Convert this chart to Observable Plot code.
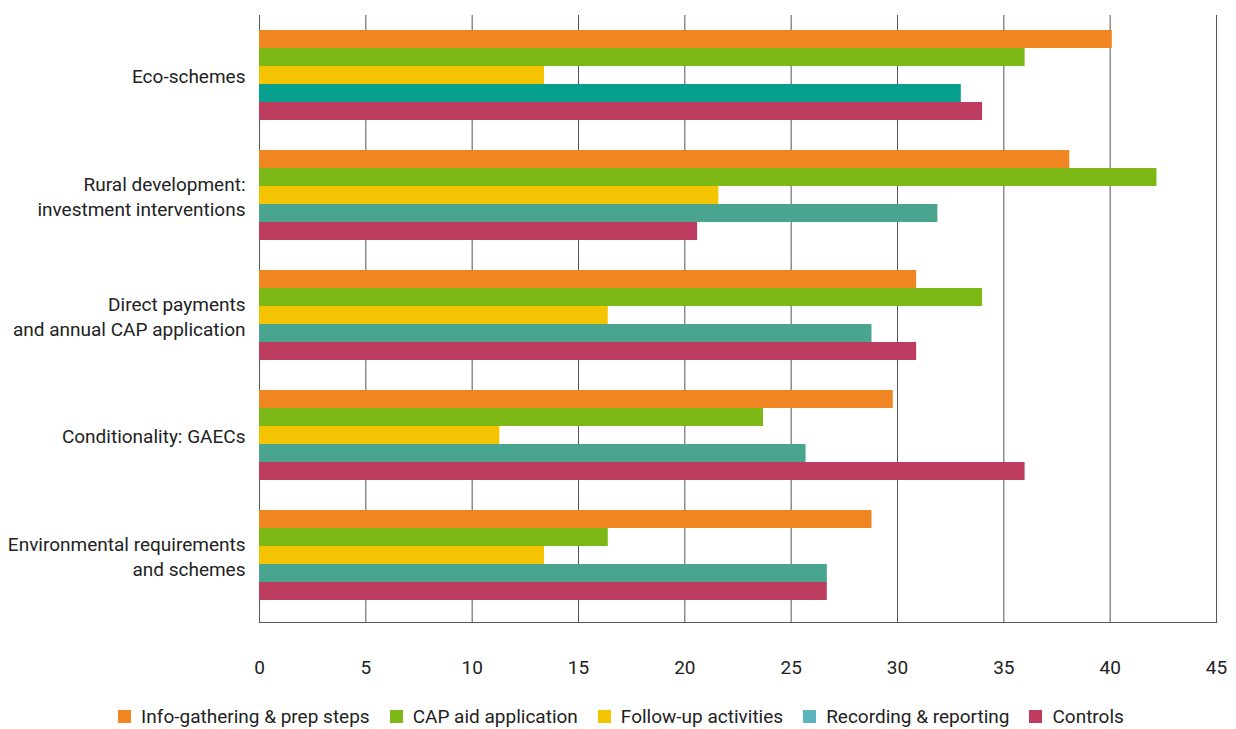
<!DOCTYPE html>
<html>
<head>
<meta charset="utf-8">
<script src="https://cdn.jsdelivr.net/npm/d3@7"></script>
<script src="https://cdn.jsdelivr.net/npm/@observablehq/plot@0.6"></script>
<style>
  html, body { margin: 0; padding: 0; background: #fff; }
  body { width: 1236px; height: 729px; overflow: hidden; font-family: Roboto, "Noto Sans", sans-serif; }
  #legend { display: flex; justify-content: center; align-items: center; gap: 20px; margin-top: 14px; height: 24px; font-size: 19px; color: #222; padding-left: 6px; }
  #legend .item { display: flex; align-items: center; gap: 10px; }
  #legend .sw { width: 13px; height: 13px; display: inline-block; }
</style>
</head>
<body>
<div id="chart"></div>
<div id="legend"></div>
<script>
const categories = [
  "Eco-schemes",
  "Rural development:\ninvestment interventions",
  "Direct payments\nand annual CAP application",
  "Conditionality: GAECs",
  "Environmental requirements\nand schemes"
];
const seriesNames = [
  "Info-gathering & prep steps",
  "CAP aid application",
  "Follow-up activities",
  "Recording & reporting",
  "Controls"
];
const infoGathering = [40.1, 38.1, 30.9, 29.8, 28.8];
const capAid        = [36.0, 42.2, 34.0, 23.7, 16.4];
const followUp      = [13.4, 21.6, 16.4, 11.3, 13.4];
const recording     = [33.0, 31.9, 28.8, 25.7, 26.7];
const controls      = [34.0, 20.6, 30.9, 36.0, 26.7];
const xTicks = [0, 5, 10, 15, 20, 25, 30, 35, 40, 45];

// styles
const barColors = ["#f08622", "#7eb817", "#f5c400", "#4aa590", "#bd3c5f"];
const ecoTeal = "#07a08e";
const legendColors = ["#f08622", "#7eb817", "#f5c400", "#5bb5bd", "#bd3c5f"];

const seriesValues = [infoGathering, capAid, followUp, recording, controls];
const data = [];
categories.forEach((c, ci) => {
  seriesValues.forEach((vals, si) => {
    data.push({category: c, series: seriesNames[si], si, value: vals[ci]});
  });
});

const barH = 18;
const barMarks = seriesNames.map((s, si) =>
  Plot.barX(data.filter(d => d.si === si), {
    x: "value",
    y: "category",
    fill: d => (si === 3 && d.category === "Eco-schemes") ? ecoTeal : barColors[si],
    insetTop: si * barH,
    insetBottom: (4 - si) * barH
  })
);

const chart = Plot.plot({
  width: 1236,
  height: 690,
  marginLeft: 259,
  marginRight: 20,
  marginTop: 15,
  marginBottom: 68,
  style: {fontFamily: "Roboto, 'Noto Sans', sans-serif", fontSize: "19px", color: "#222", background: "#fff"},
  x: {domain: [0, 45], ticks: xTicks},
  y: {domain: categories, range: [30, 600], paddingInner: 0.25, paddingOuter: 0},
  marks: [
    Plot.ruleX(xTicks, {stroke: "#555", strokeWidth: 1}),
    Plot.frame({anchor: "bottom", stroke: "#555", strokeWidth: 1.2}),
    ...barMarks,
    Plot.axisX({ticks: xTicks, tickSize: 0, tickPadding: 38, fontSize: 19, fill: "#222", label: null}),
    Plot.axisY({tickSize: 0, tickPadding: 14, fontSize: 19, fill: "#222", label: null, lineHeight: 1.3, textAnchor: "end"})
  ]
});
document.getElementById("chart").appendChild(chart);

const legend = document.getElementById("legend");
seriesNames.forEach((s, i) => {
  const item = document.createElement("div");
  item.className = "item";
  const sw = document.createElement("span");
  sw.className = "sw";
  sw.style.background = legendColors[i];
  const t = document.createElement("span");
  t.textContent = s;
  item.appendChild(sw);
  item.appendChild(t);
  legend.appendChild(item);
});
</script>
</body>
</html>
